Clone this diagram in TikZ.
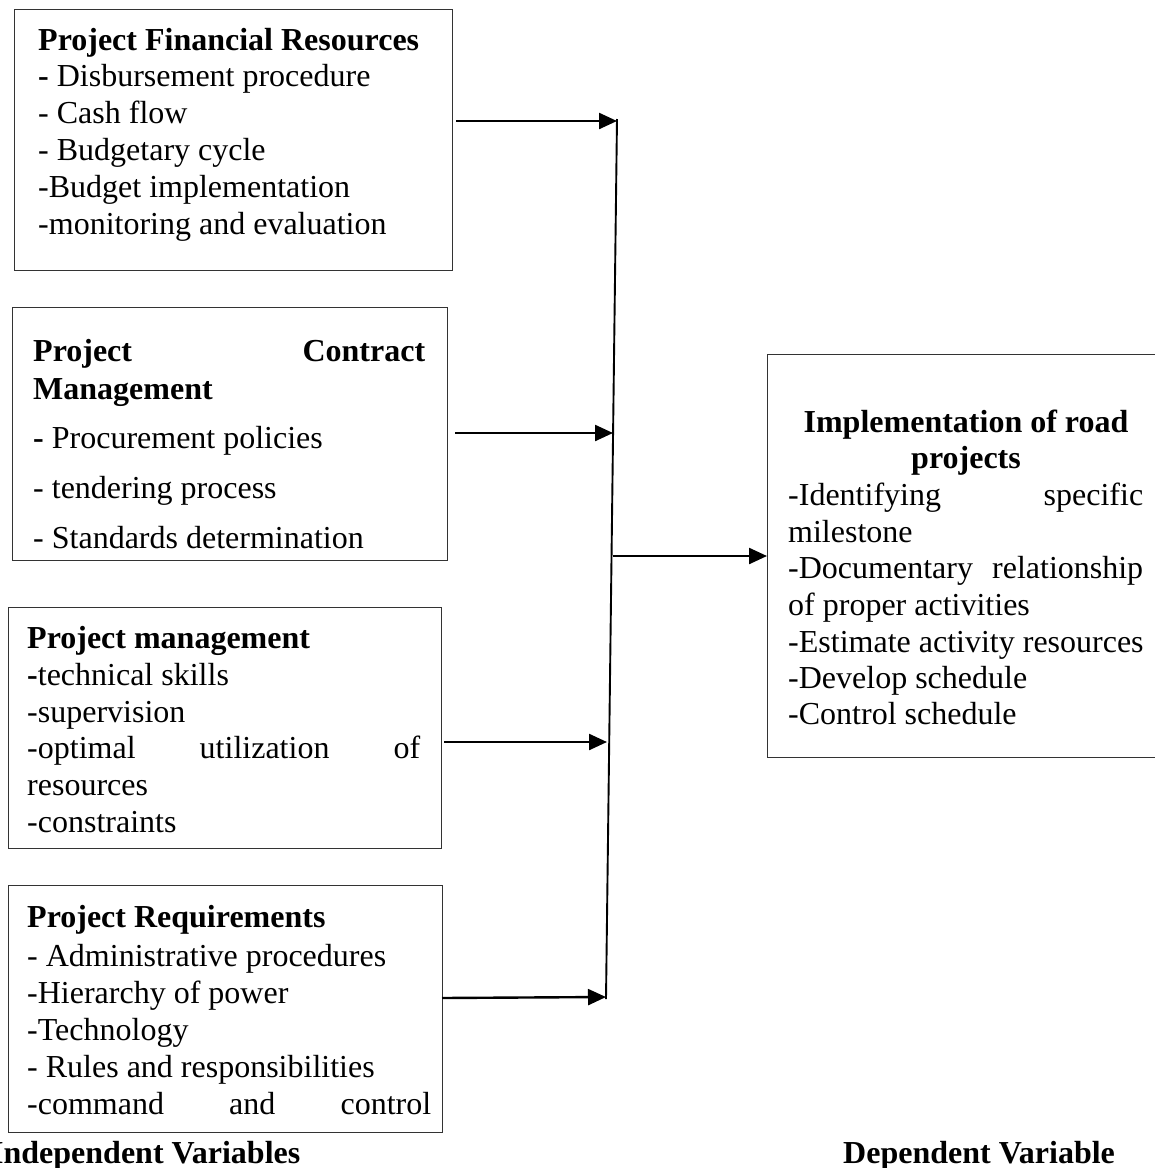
\documentclass[tikz,border=0pt]{standalone}
\usepackage{fontspec}
\setmainfont{Liberation Serif}
\usetikzlibrary{arrows.meta}
\begin{document}
\begin{tikzpicture}[x=1pt,y=-1pt,
  box/.style={draw=black!80, line width=1.3pt, inner sep=0pt, anchor=north west},
  txt/.style={anchor=base west, inner sep=0pt, font=\fontsize{32pt}{37pt}\selectfont},
  ttl/.style={anchor=base west, inner sep=0pt, font=\fontsize{32pt}{37pt}\selectfont\bfseries},
  ctl/.style={anchor=base, inner sep=0pt, font=\fontsize{32pt}{37pt}\selectfont\bfseries},
  conn/.style={line width=2.4pt, -{Triangle[length=18pt,width=16pt]}},
  spine/.style={line width=1.9pt}]
\useasboundingbox (0,0) rectangle (1155,1168);
\fill[white] (0,0) rectangle (1155,1168);

% boxes
\node[box, minimum width=438pt, minimum height=261pt] (b1) at (14,9) {};
\node[box, minimum width=435pt, minimum height=253pt] (b2) at (12,307) {};
\node[box, minimum width=433pt, minimum height=241pt] (b3) at (8,607) {};
\node[box, minimum width=434pt, minimum height=247pt] (b4) at (8,885) {};
\node[box, minimum width=400pt, minimum height=403pt] (b5) at (767,354) {};

% box 1
\node[ttl] (t1) at (38,50) {Project Financial Resources};
\node[txt] (t1a) at (38,86) {\textbf{-} Disbursement procedure};
\node[txt] (t1b) at (38,123) {- Cash flow};
\node[txt] (t1c) at (38,160) {- Budgetary cycle};
\node[txt] (t1d) at (38,197) {-Budget implementation};
\node[txt] (t1e) at (38,234) {-monitoring and evaluation};

% box 2
\node[ttl] (t2) at (33,361) {\makebox[392pt][s]{Project Contract}};
\node[ttl] (t2m) at (33,399) {Management};
\node[txt] (t2a) at (33,448) {\textbf{-} Procurement policies};
\node[txt] (t2b) at (33,498) {- tendering process};
\node[txt] (t2c) at (33,548) {- Standards determination};

% box 3
\node[ttl] (t3) at (27,648) {Project management};
\node[txt] (t3a) at (27,685) {\textbf{-}technical skills};
\node[txt] (t3b) at (27,722) {-supervision};
\node[txt] (t3c) at (27,758) {\makebox[393pt][s]{-optimal utilization of}};
\node[txt] (t3d) at (27,795) {resources};
\node[txt] (t3e) at (27,832) {-constraints};

% box 4
\node[ttl] (t4) at (27,927) {Project Requirements};
\node[txt] (t4a) at (27,966) {- Administrative procedures};
\node[txt] (t4b) at (27,1003) {-Hierarchy of power};
\node[txt] (t4c) at (27,1040) {-Technology};
\node[txt] (t4d) at (27,1077) {- Rules and responsibilities};
\node[txt] (t4e) at (27,1114) {\makebox[404pt][s]{-command and control}};

% box 5
\node[ctl] (t5) at (966,432) {Implementation of road};
\node[ctl] (t5b) at (966,468) {projects};
\node[txt] (t5a) at (788,505) {\makebox[355pt][s]{-Identifying specific}};
\node[txt] (t5c) at (788,542) {milestone};
\node[txt] (t5d) at (788,578) {\makebox[355pt][s]{-Documentary relationship}};
\node[txt] (t5e) at (788,615) {of proper activities};
\node[txt] (t5f) at (788,652) {-Estimate activity resources};
\node[txt] (t5g) at (788,688) {-Develop schedule};
\node[txt] (t5h) at (788,724) {-Control schedule};

% bottom labels
\node[ttl] (iv) at (-9,1163) {Independent Variables};
\node[ttl] (dv) at (843,1163) {Dependent Variable};

% connectors
\coordinate (vtop) at (617,119);
\coordinate (vbot) at (606,999);
\coordinate (v1) at (617,121);
\coordinate (v2) at (613,433);
\coordinate (v3) at (607,742);
\coordinate (v4) at (606,997);
\coordinate (v5) at (613,556);
\coordinate (a1) at (456,121);
\coordinate (a2) at (455,433);
\coordinate (a3) at (444,742);
\coordinate (a4) at (442,998);
\draw[spine] (vtop) -- (vbot);
\draw[conn] (a1) -- (v1);
\draw[conn] (a2) -- (v2);
\draw[conn] (a3) -- (v3);
\draw[conn] (a4) -- (v4);
\draw[conn] (v5) -- (b5.west |- v5);
\end{tikzpicture}
\end{document}
